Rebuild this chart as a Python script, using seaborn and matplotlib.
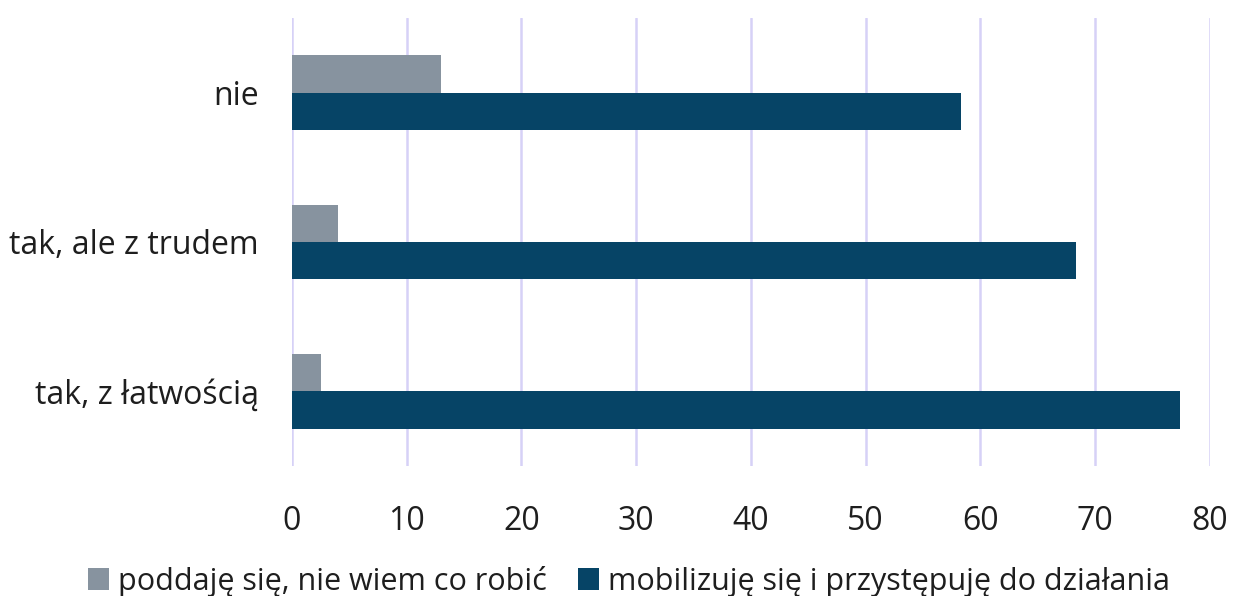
import matplotlib
matplotlib.use("Agg")
import matplotlib.pyplot as plt
import seaborn as sns
import pandas as pd

categories = ["nie", "tak, ale z trudem", "tak, z łatwością"]
series_names = ["poddaję się, nie wiem co robić", "mobilizuję się i przystępuję do działania"]
poddaje = [13.0, 4.0, 2.5]
mobilizuje = [58.3, 68.3, 77.4]
xticks = [0, 10, 20, 30, 40, 50, 60, 70, 80]

df = pd.DataFrame({
    "kategoria": categories * 2,
    "seria": [series_names[0]] * 3 + [series_names[1]] * 3,
    "wartosc": poddaje + mobilizuje,
})

sns.set_theme(style="white")
plt.rcParams['font.family'] = ['Open Sans', 'DejaVu Sans']

fig = plt.figure(figsize=(12.33, 5.96), dpi=100)
ax = fig.add_axes([0.2368, 0.218, 0.7445, 0.752])

palette = {series_names[0]: "#87939f", series_names[1]: "#064466"}
sns.barplot(data=df, y="kategoria", x="wartosc", hue="seria", orient="y",
            palette=palette, width=0.5, ax=ax, saturation=1, legend=True,
            linewidth=0)

ax.set_xlim(0, 80)
ax.set_ylim(2.5, -0.5)
ax.set_xticks(xticks)
ax.set_xticklabels([str(t) for t in xticks])
ax.xaxis.grid(True, color="#d6d1f7", linewidth=1.8)
ax.set_axisbelow(True)
for s in ax.spines.values():
    s.set_visible(False)
ax.set_xlabel("")
ax.set_ylabel("")
ax.tick_params(axis="x", labelsize=23, pad=28, length=0, colors="#1e1e1e")
ax.tick_params(axis="y", labelsize=23, pad=24, length=0, colors="#1e1e1e")

handles, labels = ax.get_legend_handles_labels()
ax.legend_.remove()
fig.legend(handles, labels, loc="lower center", ncol=2, frameon=False,
           bbox_to_anchor=(0.51, -0.047), fontsize=22, handlelength=0.7,
           handleheight=0.7, handletextpad=0.3, columnspacing=1.0,
           labelcolor="#1e1e1e")

fig.savefig("out.png", dpi=100)
